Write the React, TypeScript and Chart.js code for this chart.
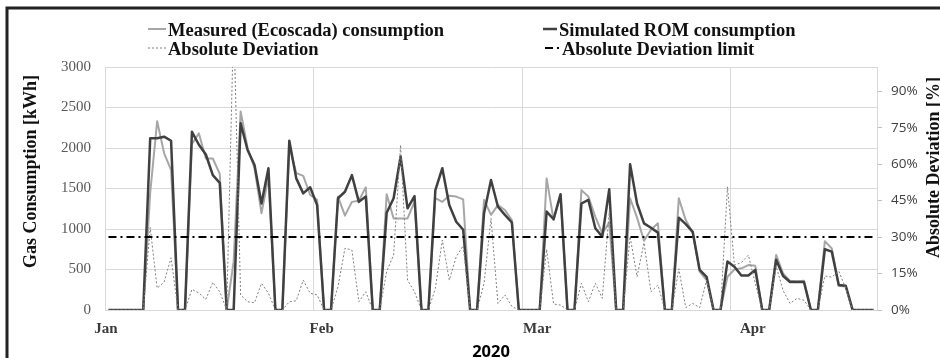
import React, { useEffect, useRef } from 'react';
import { Chart, registerables } from 'chart.js';

Chart.register(...registerables);

// Day index from 1 Jan 2020 (0) to 20 Apr 2020 (110)
const DAYS: number[] = Array.from({ length: 111 }, (_, i) => i);

const MEASURED: number[] = [
  0, 0, 0, 0, 0, 0, 1450, 2330, 1935, 1730,
  0, 0, 2050, 2180, 1870, 1870, 1680, 0, 600, 2450,
  2000, 1750, 1195, 1640, 0, 0, 2020, 1690, 1655, 1420,
  1360, 0, 0, 1400, 1165, 1335, 1350, 1515, 0, 0,
  1430, 1130, 1130, 1130, 1335, 0, 0, 1380, 1335, 1410,
  1400, 1365, 0, 0, 1360, 1175, 1295, 1235, 1110, 0,
  0, 0, 0, 1625, 1110, 1420, 0, 0, 1480, 1400,
  1150, 945, 1080, 0, 0, 1380, 1140, 855, 990, 1070,
  0, 0, 1380, 1110, 955, 475, 370, 0, 0, 410,
  500, 515, 555, 545, 0, 0, 680, 450, 360, 355,
  360, 0, 0, 850, 760, 300, 290, 0, 0, 0,
  0,
];

const SIMULATED: number[] = [
  0, 0, 0, 0, 0, 0, 2120, 2120, 2140, 2090,
  0, 0, 2200, 2040, 1920, 1665, 1570, 0, 0, 2305,
  1975, 1790, 1315, 1750, 0, 0, 2090, 1625, 1440, 1515,
  1295, 0, 0, 1380, 1460, 1665, 1335, 1400, 0, 0,
  1200, 1380, 1895, 1255, 1405, 0, 0, 1480, 1750, 1295,
  1090, 990, 0, 0, 1195, 1605, 1275, 1175, 1080, 0,
  0, 0, 0, 1215, 1120, 1430, 0, 0, 1315, 1360,
  1010, 905, 1490, 0, 0, 1800, 1315, 1070, 1015, 955,
  0, 0, 1140, 1060, 965, 495, 410, 0, 0, 600,
  535, 425, 425, 495, 0, 0, 620, 420, 345, 345,
  345, 0, 0, 750, 720, 310, 300, 0, 0, 0,
  0,
];

const DEVIATION: number[] = [
  0, 0, 0, 0, 0, 0, 34, 9, 11.5, 21.5,
  0, 0, 8.5, 7, 4.4, 11.4, 7.5, 0, 120, 6.2,
  3.4, 3, 11, 6.9, 0, 0, 3.4, 3.8, 12.3, 6.9,
  6.2, 0, 0, 9.6, 25.4, 24.7, 3.4, 7.5, 0, 0,
  15.8, 22.6, 67.9, 12.3, 7.5, 0, 0, 8.9, 28.8, 12.3,
  21.9, 26.5, 0, 0, 11, 37.7, 2.7, 6.2, 1.5, 0,
  0, 0, 0, 25, 2.5, 2, 0, 0, 11, 3.4,
  11, 4.8, 40.5, 0, 0, 30.2, 13.7, 27.7, 7.5, 10.3,
  0, 0, 17, 1, 2.7, 1, 12.3, 0, 0, 50.7,
  18.5, 19.5, 22.6, 11, 0, 0, 18, 8, 2.7, 4.8,
  4, 0, 0, 14, 13.5, 16, 9, 0, 0, 0,
  0,
];

const DEVIATION_LIMIT = 30;

const SERIES_LABELS = [
  'Measured (Ecoscada) consumption',
  'Simulated ROM consumption',
  'Absolute Deviation',
  'Absolute Deviation limit',
];

const Y_TICKS = [0, 500, 1000, 1500, 2000, 2500, 3000];
const Y1_TICKS = [0, 15, 30, 45, 60, 75, 90];
const MONTH_LABELS = ['Jan', 'Feb', 'Mar', 'Apr'];
const MONTH_LABEL_POS = [-0.35, 30.65, 61.65, 92.65];
const MONTH_GRID_POS = [-0.5, 29.5, 59.5, 89.5, 110.5];

const X_TITLE = '2020';
const Y_TITLE = 'Gas Consumption [kWh]';
const Y1_TITLE = 'Absolute Deviation [%]';

const COLORS = {
  measured: '#a6a6a6',
  simulated: '#404040',
  deviation: '#7f7f7f',
  limit: '#000000',
  grid: '#d9d9d9',
};

const overlayPlugin = {
  id: 'overlay',
  afterDraw(chart: any) {
    const ctx = chart.ctx as CanvasRenderingContext2D;
    const area = chart.chartArea;
    ctx.save();
    // outer frame (top + left)
    ctx.strokeStyle = '#222222';
    ctx.lineWidth = 3;
    ctx.beginPath();
    ctx.moveTo(7, 358);
    ctx.lineTo(7, 8);
    ctx.lineTo(940, 8);
    ctx.stroke();

    // legend
    const ds = chart.data.datasets;
    const items = [
      { i: 0, sx: 148, ex: 166, tx: 168, y: 35.5 },
      { i: 1, sx: 543, ex: 557, tx: 559, y: 35.5 },
      { i: 2, sx: 148, ex: 166, tx: 168, y: 54.5 },
      { i: 3, sx: 545, ex: 560, tx: 562, y: 54.5 },
    ];
    ctx.font = 'bold 18.5px "Liberation Serif"';
    ctx.textBaseline = 'alphabetic';
    ctx.textAlign = 'left';
    for (const it of items) {
      const d = ds[it.i];
      ctx.save();
      ctx.strokeStyle = d.borderColor;
      ctx.lineWidth = d.borderWidth;
      ctx.setLineDash(d.borderDash || []);
      ctx.beginPath();
      ctx.moveTo(it.sx, it.y - 6.5);
      ctx.lineTo(it.ex, it.y - 6.5);
      ctx.stroke();
      ctx.restore();
      ctx.fillStyle = '#111111';
      ctx.fillText(d.label, it.tx, it.y);
    }

    // axis titles
    ctx.fillStyle = '#111111';
    ctx.font = 'bold 18px "Liberation Serif"';
    ctx.textAlign = 'center';
    ctx.save();
    ctx.translate(36, 171.5);
    ctx.rotate(-Math.PI / 2);
    ctx.fillText(Y_TITLE, 0, 0);
    ctx.restore();
    ctx.save();
    ctx.translate(939, 167.5);
    ctx.rotate(-Math.PI / 2);
    ctx.fillText(Y1_TITLE, 0, 0);
    ctx.restore();

    ctx.font = 'bold 16.5px "Open Sans"';
    ctx.fillStyle = '#000000';
    ctx.fillText(X_TITLE, (area.left + area.right) / 2, 357);
    ctx.restore();
  },
};

export default function App() {
  const ref = useRef<HTMLCanvasElement | null>(null);

  useEffect(() => {
    if (!ref.current) return;
    const pts = (arr: number[]) => DAYS.map((d, i) => ({ x: d, y: arr[i] }));
    const chart = new Chart(ref.current, {
      type: 'line',
      data: {
        datasets: [
          {
            label: SERIES_LABELS[0],
            data: pts(MEASURED),
            borderColor: COLORS.measured,
            borderWidth: 2,
            yAxisID: 'y',
            xAxisID: 'x',
            order: 3,
          },
          {
            label: SERIES_LABELS[1],
            data: pts(SIMULATED),
            borderColor: COLORS.simulated,
            borderWidth: 2.5,
            yAxisID: 'y',
            xAxisID: 'x',
            order: 2,
          },
          {
            label: SERIES_LABELS[2],
            data: pts(DEVIATION),
            borderColor: COLORS.deviation,
            borderWidth: 1,
            borderDash: [2, 2],
            yAxisID: 'y1',
            xAxisID: 'x',
            order: 1,
          },
          {
            label: SERIES_LABELS[3],
            data: DAYS.map((d) => ({ x: d, y: DEVIATION_LIMIT })),
            borderColor: COLORS.limit,
            borderWidth: 2,
            borderDash: [8, 4, 2, 4],
            yAxisID: 'y1',
            xAxisID: 'x',
            order: 0,
          },
        ] as any,
      },
      options: {
        animation: false,
        responsive: false,
        devicePixelRatio: 1,
        layout: { padding: { top: 67, left: 0, right: 0, bottom: 0 } },
        elements: {
          point: { radius: 0 },
          line: { tension: 0, borderJoinStyle: 'round', fill: false },
        },
        plugins: { legend: { display: false }, tooltip: { enabled: false } },
        scales: {
          x: {
            type: 'linear',
            position: 'bottom',
            min: -0.5,
            max: 110.5,
            afterBuildTicks: (s: any) => {
              s.ticks = MONTH_GRID_POS.map((v) => ({ value: v }));
            },
            afterFit: (s: any) => {
              s.height = 0;
            },
            ticks: { display: false },
            grid: { color: COLORS.grid, drawTicks: false, lineWidth: 1 },
            border: { display: false },
          },
          xl: {
            type: 'linear',
            axis: 'x',
            position: 'bottom',
            min: -0.5,
            max: 110.5,
            afterBuildTicks: (s: any) => {
              s.ticks = MONTH_LABEL_POS.map((v) => ({ value: v }));
            },
            afterFit: (s: any) => {
              s.height = 48;
            },
            ticks: {
              autoSkip: false,
              maxRotation: 0,
              padding: 10,
              color: '#3a3a3a',
              font: { family: 'Liberation Serif', size: 15, weight: 'bold' },
              callback: (_v: any, i: number) => MONTH_LABELS[i],
            },
            grid: { display: false, drawTicks: false },
            border: { display: false },
          },
          y: {
            type: 'linear',
            position: 'left',
            min: 0,
            max: 3000,
            afterBuildTicks: (s: any) => {
              s.ticks = Y_TICKS.map((v) => ({ value: v }));
            },
            afterFit: (s: any) => {
              s.width = 105;
            },
            ticks: {
              padding: 14,
              color: '#595959',
              font: { family: 'Liberation Serif', size: 15 },
              callback: (v: any) => String(v),
            },
            grid: { color: COLORS.grid, drawTicks: false },
            border: { display: true, color: COLORS.grid },
          },
          y1: {
            type: 'linear',
            position: 'right',
            min: 0,
            max: 100,
            afterBuildTicks: (s: any) => {
              s.ticks = Y1_TICKS.map((v) => ({ value: v }));
            },
            afterFit: (s: any) => {
              s.width = 63;
            },
            ticks: {
              padding: 9,
              color: '#404040',
              font: { family: 'Open Sans', size: 13.5 },
              callback: (v: any) => v + '%',
            },
            grid: {
              drawOnChartArea: false,
              drawTicks: true,
              tickLength: 5,
              color: '#bfbfbf',
            },
            border: { display: true, color: COLORS.grid },
          },
        },
      } as any,
      plugins: [overlayPlugin],
    });
    return () => chart.destroy();
  }, []);

  return (
    <div
      style={{
        position: 'fixed',
        left: 0,
        top: 0,
        width: 940,
        height: 358,
        background: '#ffffff',
        overflow: 'hidden',
      }}
    >
      <canvas ref={ref} width={940} height={358} style={{ width: 940, height: 358, display: 'block' }} />
    </div>
  );
}
